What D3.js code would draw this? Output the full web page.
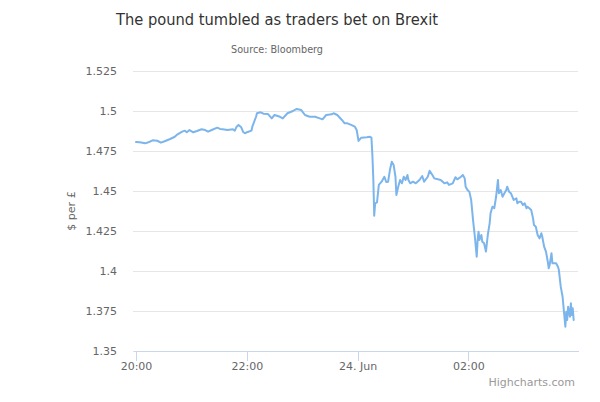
<!DOCTYPE html>
<html>
<head>
<meta charset="utf-8">
<script src="https://cdn.jsdelivr.net/npm/d3@7"></script>
<style>
  html, body { margin: 0; padding: 0; background: #fff; }
  svg { display: block; font-family: "DejaVu Sans", sans-serif; }
</style>
</head>
<body>
<svg id="chart" width="600" height="402"></svg>
<script>
// ---- data ----
const title = "The pound tumbled as traders bet on Brexit";
const subtitle = "Source: Bloomberg";
const yAxisTitle = "$ per £";
const credits = "Highcharts.com";
const startTime = Date.UTC(2016, 5, 23, 20, 0); // 23 Jun 2016 20:00
// minutes after 20:00
const minutes = [0,4,10,15,18,23,27,31,37,42,45,50,53,55,58,62,66,71,75,78,82,88,91,94,99,105,107,109,111,114,116,118,121,125,126,130,131,135,138,143,147,150,156,159,164,170,174,179,183,188,194,199,202,206,212,214,218,223,226,229,233,237,239,241,244,250,253,255,256,257,258,259,261,263,266,269,271,273,275,277,279,281,282,284,286,288,290,292,294,295,297,300,303,307,310,312,316,318,321,323,327,330,334,337,339,343,346,348,352,354,356,357,359,361,363,365,367,369,370,371,372,374,375,377,379,381,383,384,386,388,390,392,393,395,397,399,401,402,404,406,409,412,413,415,417,419,421,423,424,426,428,430,431,433,435,437,439,440,442,444,446,447,448,450,451,453,455,457,458,460,462,464,465,466,467,468,470,471,472,473,474];
// USD per GBP
const rates = [1.4806,1.4804,1.4798,1.4808,1.4817,1.4814,1.4802,1.4811,1.4825,1.4839,1.4854,1.4871,1.4877,1.4867,1.4881,1.4867,1.4875,1.4886,1.4881,1.4871,1.4881,1.4896,1.4888,1.4886,1.4881,1.4886,1.4877,1.4902,1.4913,1.4898,1.4869,1.4861,1.4869,1.4877,1.4902,1.4964,1.4986,1.4992,1.4983,1.4981,1.4954,1.4975,1.4964,1.4954,1.4986,1.5000,1.5013,1.5006,1.4975,1.4964,1.4964,1.4954,1.4948,1.4975,1.4979,1.4986,1.4975,1.4944,1.4923,1.4923,1.4913,1.4902,1.4881,1.4813,1.4833,1.4836,1.4839,1.4833,1.4725,1.4579,1.4346,1.4423,1.4429,1.4538,1.4558,1.4589,1.4556,1.4558,1.4631,1.4683,1.4663,1.4589,1.4475,1.4527,1.4569,1.4548,1.4589,1.4569,1.4600,1.4569,1.4548,1.4558,1.4548,1.4569,1.4594,1.4558,1.4589,1.4627,1.4600,1.4579,1.4573,1.4569,1.4548,1.4554,1.4538,1.4548,1.4586,1.4573,1.4589,1.4600,1.4579,1.4527,1.4506,1.4496,1.4444,1.4319,1.4214,1.4089,1.4194,1.4246,1.4194,1.4225,1.4183,1.4173,1.4121,1.4225,1.4298,1.4361,1.4402,1.4392,1.4464,1.4569,1.4486,1.4506,1.4464,1.4486,1.4506,1.4527,1.4496,1.4486,1.4444,1.4454,1.4423,1.4433,1.4433,1.4413,1.4423,1.4392,1.4402,1.4392,1.4381,1.4329,1.4288,1.4277,1.4225,1.4204,1.4236,1.4214,1.4152,1.4121,1.4058,1.4017,1.4038,1.4111,1.4048,1.4048,1.4048,1.4027,1.4006,1.3902,1.3839,1.3714,1.3652,1.3746,1.3694,1.3777,1.3714,1.3798,1.3725,1.3767,1.3694];
const yTicks = [1.35, 1.375, 1.4, 1.425, 1.45, 1.475, 1.5, 1.525];
const xTickMinutes = [0, 120, 240, 360];

// ---- chart ----
const svg = d3.select("#chart");
const plot = { left: 133, right: 578, top: 71, bottom: 351 };
const MIN = 60000;

const data = minutes.map((m, i) => ({ t: new Date(startTime + m * MIN), v: rates[i] }));

const x = d3.scaleUtc()
  .domain([new Date(startTime - 3.25 * MIN), new Date(startTime + 478.7 * MIN)])
  .range([plot.left, plot.right]);
const y = d3.scaleLinear().domain([1.35, 1.525]).range([plot.bottom, plot.top]);

// title / subtitle
svg.append("text").attr("x", 277).attr("y", 25).attr("text-anchor", "middle")
  .attr("textLength", 322).attr("lengthAdjust", "spacingAndGlyphs")
  .style("font-size", "16px").attr("fill", "#333333").text(title);
svg.append("text").attr("x", 277).attr("y", 53).attr("text-anchor", "middle")
  .attr("textLength", 92).attr("lengthAdjust", "spacingAndGlyphs")
  .style("font-size", "10px").attr("fill", "#666666").text(subtitle);

// y grid + labels
const yAxis = d3.axisLeft(y).tickValues(yTicks)
  .tickSize(-(plot.right - plot.left)).tickPadding(16)
  .tickFormat(d => d3.format("")(+d.toFixed(3)));
const gy = svg.append("g").attr("transform", `translate(${plot.left},0)`).call(yAxis);
gy.select(".domain").remove();
gy.selectAll(".tick line").attr("stroke", "#e6e6e6").attr("shape-rendering", "crispEdges");
gy.selectAll(".tick text").attr("fill", "#666666").style("font-size", "11px")
  .attr("font-family", "DejaVu Sans").attr("dy", "0.28em");

// y title
svg.append("text").attr("transform", `translate(75,${(plot.top + plot.bottom) / 2}) rotate(-90)`)
  .attr("text-anchor", "middle").style("font-size", "11px").attr("fill", "#666666").text(yAxisTitle);

// x axis
const fmtHM = d3.utcFormat("%H:%M");
const fmtDay = d3.utcFormat("%-d. %b");
const xAxis = d3.axisBottom(x)
  .tickValues(xTickMinutes.map(m => new Date(startTime + m * MIN)))
  .tickSize(10).tickSizeOuter(0).tickPadding(1)
  .tickFormat(d => (d.getUTCHours() === 0 && d.getUTCMinutes() === 0) ? fmtDay(d) : fmtHM(d));
const gx = svg.append("g").attr("transform", `translate(0,${plot.bottom})`).call(xAxis);
gx.select(".domain").attr("stroke", "#ccd6eb").attr("shape-rendering", "crispEdges");
gx.selectAll(".tick line").attr("stroke", "#ccd6eb").attr("shape-rendering", "crispEdges");
gx.selectAll(".tick text").attr("fill", "#666666").style("font-size", "11px")
  .attr("font-family", "DejaVu Sans");

// line
const line = d3.line().x(d => x(d.t)).y(d => y(d.v));
svg.append("path").datum(data).attr("d", line)
  .attr("fill", "none").attr("stroke", "#7cb5ec").attr("stroke-width", 2)
  .attr("stroke-linejoin", "round").attr("stroke-linecap", "round");

// credits
svg.append("text").attr("x", 575).attr("y", 386).attr("text-anchor", "end")
  .style("font-size", "11px").attr("fill", "#999999").text(credits);
</script>
</body>
</html>
